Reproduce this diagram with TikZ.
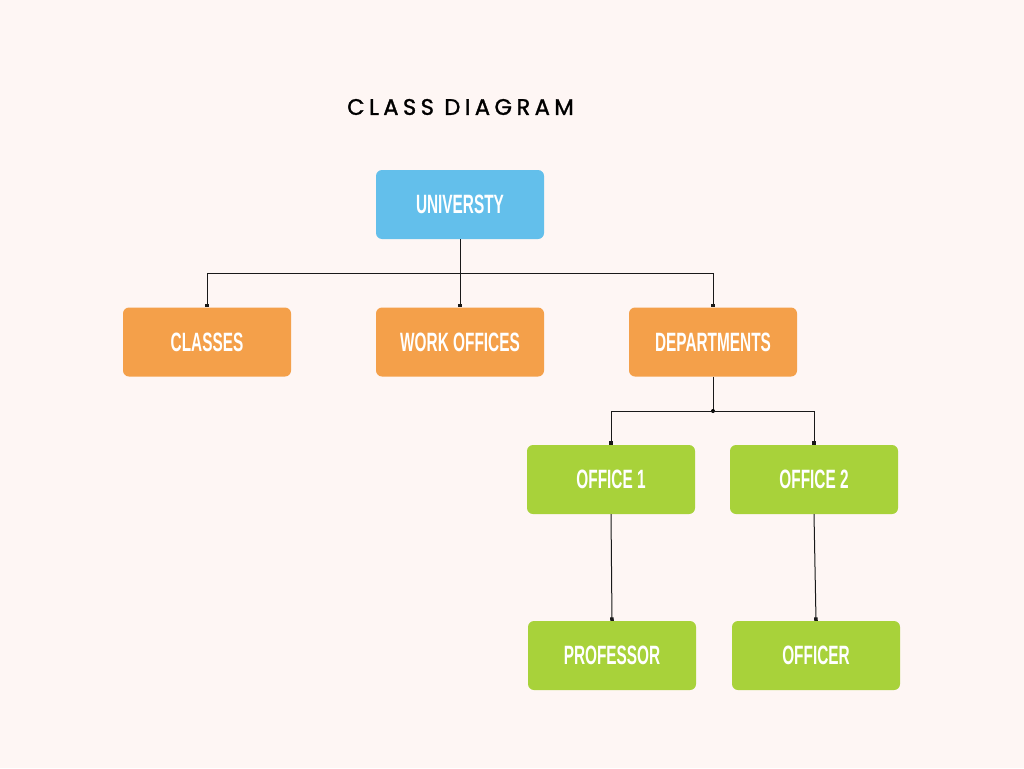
\documentclass[tikz,border=0pt]{standalone}
\usepackage{fontspec}
\usetikzlibrary{arrows.meta}
\newfontfamily\titlefont{Poppins}[LetterSpace=20, FakeBold=1.4]
\newfontfamily\boxfont{Liberation Sans}[FakeStretch=0.58]
\definecolor{bgc}{HTML}{FEF6F4}
\definecolor{bluec}{HTML}{63BFEB}
\definecolor{orangec}{HTML}{F4A04A}
\definecolor{greenc}{HTML}{A8D23A}
\tikzset{
  box/.style={rectangle, rounded corners=6pt, minimum width=168pt, minimum height=69pt,
    inner sep=0pt, text=white, font=\boxfont\bfseries\fontsize{26.5}{26.5}\selectfont},
  conn/.style={draw=black!90, line width=1pt},
  tipd/.style={-{Square[length=3.5pt,width=3.5pt]}}
}
\begin{document}
\begin{tikzpicture}[x=1pt,y=-1pt]
\fill[bgc] (0,0) rectangle (1024,768);
\useasboundingbox (0,0) rectangle (1024,768);
\node (title) at (460.5,107) {\titlefont\fontsize{22.5}{22.5}\selectfont CLASS DIAGRAM};
\node[box, fill=bluec] (univ) at (460,204.5) {UNIVERSTY};
\node[box, fill=orangec] (classes) at (207,342) {CLASSES};
\node[box, fill=orangec] (work) at (460,342) {WORK OFFICES};
\node[box, fill=orangec] (dept) at (713,342) {DEPARTMENTS};
\node[box, fill=greenc] (off1) at (611,479.5) {OFFICE 1};
\node[box, fill=greenc] (off2) at (814,479.5) {OFFICE 2};
\node[box, fill=greenc] (prof) at (612,655.5) {PROFESSOR};
\node[box, fill=greenc] (officer) at (816,655.5) {OFFICER};
\coordinate (j1) at (460,273);
\coordinate (j2) at (713,411);
\draw[conn] (univ.south) -- (j1);
\draw[conn, tipd] (j1) -| (classes.north);
\draw[conn, tipd] (j1) -- (work.north);
\draw[conn, tipd] (j1) -| (dept.north);
\draw[conn] (dept.south) -- (j2);
\fill (j2) circle (2pt);
\draw[conn, tipd] (j2) -| (off1.north);
\draw[conn, tipd] (j2) -| (off2.north);
\draw[conn, tipd] (off1.south) -- (prof.north);
\draw[conn, tipd] (off2.south) -- (officer.north);
\end{tikzpicture}
\end{document}
